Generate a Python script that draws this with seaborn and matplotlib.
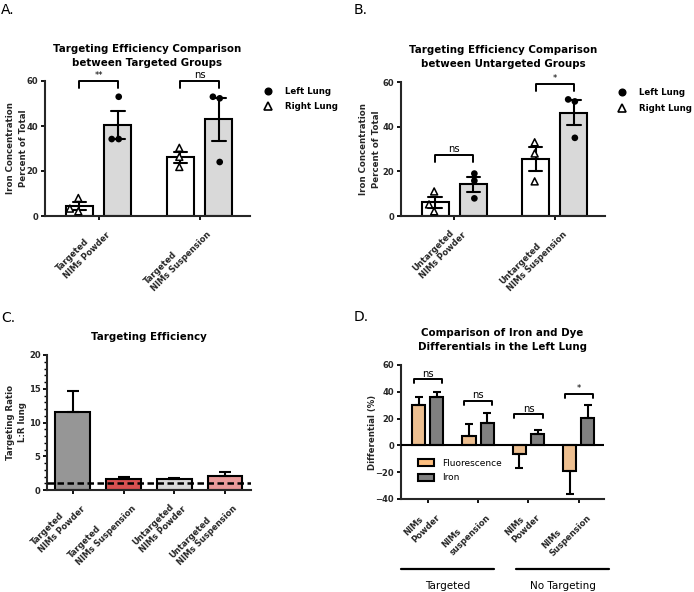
import numpy as np
import pandas as pd
import matplotlib
matplotlib.use("Agg")
import matplotlib.pyplot as plt
import matplotlib.patches as mpatches
import matplotlib.transforms as mtransforms
from matplotlib.lines import Line2D
from matplotlib.ticker import MultipleLocator
import seaborn as sns

# ---- data ----
LUNGS = ["Right Lung", "Left Lung"]

# A: targeted groups, iron % of total, 3 animals per lung
a_groups = ["Targeted\nNIMs Powder", "Targeted\nNIMs Suspension"]
a_left = [[53.0, 34.2, 34.2], [53.0, 52.3, 24.0]]
a_right = [[8.0, 3.3, 2.1], [30.3, 26.3, 21.8]]
a_sig = ["**", "ns"]
a_sig_y = [60, 60]

# B: untargeted groups
b_groups = ["Untargeted\nNIMs Powder", "Untargeted\nNIMs Suspension"]
b_left = [[19.0, 15.8, 7.9], [52.2, 51.3, 35.0]]
b_right = [[11.0, 5.2, 2.1], [33.0, 28.0, 15.5]]
b_sig = ["ns", "*"]
b_sig_y = [27.5, 59]

# C: L:R targeting ratio
c_labels = ["Targeted\nNIMs Powder", "Targeted\nNIMs Suspension",
            "Untargeted\nNIMs Powder", "Untargeted\nNIMs Suspension"]
c_ratio = [11.6, 1.65, 1.7, 2.1]
c_err = [3.0, 0.27, 0.08, 0.6]
c_colors = ["#969696", "#ee3b3b", "#d9d9d9", "#f58c8c"]

# D: iron vs dye differentials
d_keys = ["T-powder", "T-susp", "U-powder", "U-susp"]
d_labels = ["NIMs\nPowder", "NIMs\nsuspension", "NIMs\nPowder", "NIMs\nSuspension"]
d_fluor = [30.0, 7.2, -6.2, -19.4]
d_fluor_err = [6.0, 8.9, 10.7, 16.8]
d_iron = [35.8, 16.9, 8.2, 20.3]
d_iron_err = [4.4, 7.4, 3.0, 9.5]
d_sig = ["ns", "ns", "ns", "*"]
d_sig_y = [49.4, 33.3, 23.3, 38.5]

sns.set_style("ticks")
plt.rcParams["font.family"] = ["DejaVu Sans"]
plt.rcParams["axes.linewidth"] = 1.5
plt.rcParams["text.color"] = "black"

W, H = 694, 592
fig = plt.figure(figsize=(W / 100, H / 100), dpi=100)


def px_axes(left, right, top, bottom):
    return fig.add_axes([left / W, 1 - bottom / H, (right - left) / W, (bottom - top) / H])


def style(ax):
    sns.despine(ax=ax)
    ax.tick_params(axis="both", length=3, width=1.3, pad=2, labelsize=6, color="black")
    ax.set_xlabel("")
    for t in ax.get_yticklabels():
        t.set_fontweight("bold")


def set_xlabels(ax, labels):
    ax.set_xticks(range(len(labels)))
    ax.set_xticklabels(labels, rotation=45, ha="right", va="top", rotation_mode="anchor",
                       multialignment="left", fontsize=6, fontweight="bold")


def bracket(ax, x1, x2, y, txt, drop=3.2):
    ax.plot([x1, x1, x2, x2], [y - drop, y, y, y - drop], color="black", lw=1.4, clip_on=False)
    fs = 7.2 if txt == "ns" else 6
    ax.text((x1 + x2) / 2, y + 0.4, txt, ha="center", va="bottom", fontsize=fs)


def lung_panel(ax, groups, left, right, sig, sig_y, title, legend_xy):
    rows = []
    for g, l_vals, r_vals in zip(groups, left, right):
        rows += [(g, "Left Lung", v) for v in l_vals]
        rows += [(g, "Right Lung", v) for v in r_vals]
    df = pd.DataFrame(rows, columns=["group", "lung", "value"])
    sns.barplot(data=df, x="group", y="value", hue="lung", order=groups, hue_order=LUNGS,
                palette={"Right Lung": "white", "Left Lung": "#d9d9d9"},
                errorbar="se", capsize=0.27, err_kws={"linewidth": 1.5, "color": "black"},
                width=0.76, gap=0.3, edgecolor="black", linewidth=1.5, legend=False, ax=ax)
    sns.swarmplot(data=df[df.lung == "Left Lung"], x="group", y="value", hue="lung",
                  order=groups, hue_order=LUNGS, dodge=True, palette={"Left Lung": "black", "Right Lung": "black"},
                  marker="o", size=4.8, linewidth=0, legend=False, zorder=4, ax=ax)
    sns.swarmplot(data=df[df.lung == "Right Lung"], x="group", y="value", hue="lung",
                  order=groups, hue_order=LUNGS, dodge=True, palette={"Left Lung": "white", "Right Lung": "white"},
                  marker="^", size=5, edgecolor="black", linewidth=1.1, legend=False, zorder=4, ax=ax)
    ax.set_ylim(0, 60)
    ax.set_yticks([0, 20, 40, 60])
    ax.set_xlim(-0.53, 1.5)
    for i, (s, y) in enumerate(zip(sig, sig_y)):
        bracket(ax, i - 0.19, i + 0.19, y, s)
    ax.set_title(title, fontsize=7.4, fontweight="bold", pad=10.5, linespacing=1.55)
    ax.set_ylabel("Iron Concentration\nPercent of Total", fontsize=6.2, fontweight="bold", linespacing=1.5)
    style(ax)
    set_xlabels(ax, groups)
    handles = [Line2D([], [], marker="o", ls="", color="black", markersize=4.8),
               Line2D([], [], marker="^", ls="", markerfacecolor="white", markeredgecolor="black",
                      markeredgewidth=1.2, markersize=5.2)]
    ax.legend(handles, ["Left Lung", "Right Lung"], loc="upper left", bbox_to_anchor=legend_xy,
              bbox_transform=fig.transFigure, frameon=False, borderpad=0, borderaxespad=0,
              handlelength=1, handletextpad=1.5, labelspacing=0.75,
              prop={"size": 6.2, "weight": "bold"})


# ---- A ----
axA = px_axes(45, 250, 81, 216)
lung_panel(axA, a_groups, a_left, a_right, a_sig, a_sig_y,
           "Targeting Efficiency Comparison\nbetween Targeted Groups", (0.380, 0.853))
axA.yaxis.set_label_coords(-0.085, 0.5)

# ---- B ----
axB = px_axes(401, 605, 82, 216)
lung_panel(axB, b_groups, b_left, b_right, b_sig, b_sig_y,
           "Targeting Efficiency Comparison\nbetween Untargeted Groups", (0.890, 0.851))
axB.yaxis.set_label_coords(-0.10, 0.5)

# ---- C ----
axC = px_axes(47.5, 251, 355, 490)
sns.barplot(x=c_labels, y=c_ratio, hue=c_labels, palette=c_colors, legend=False, width=0.685,
            edgecolor="black", linewidth=1.5, ax=axC)
axC.errorbar(range(len(c_ratio)), c_ratio, yerr=[np.zeros(len(c_err)), c_err], fmt="none",
             ecolor="black", elinewidth=1.5, capsize=4.5, capthick=1.5, zorder=3)
axC.axhline(1, color="black", lw=1.8, ls=(0, (2.6, 1.4)), zorder=4)
axC.set_ylim(0, 20)
axC.set_xlim(-0.5, 3.51)
axC.yaxis.set_major_locator(MultipleLocator(5))
axC.yaxis.set_minor_locator(MultipleLocator(1))
axC.set_title("Targeting Efficiency", fontsize=7.4, fontweight="bold", pad=10.5)
axC.set_ylabel("Targeting Ratio\nL:R lung", fontsize=6.2, fontweight="bold", linespacing=1.5)
style(axC)
axC.tick_params(axis="y", which="minor", length=2.2, width=1.0, color="black")
set_xlabels(axC, c_labels)
axC.yaxis.set_label_coords(-0.10, 0.5)

# ---- D ----
axD = px_axes(401, 604, 365, 499)
d_df = pd.DataFrame({"group": d_keys * 2,
                     "dye": ["Fluorescence"] * 4 + ["Iron"] * 4,
                     "value": d_fluor + d_iron})
d_pal = {"Fluorescence": "#fdbf80", "Iron": "#808080"}
sns.barplot(data=d_df, x="group", y="value", hue="dye", order=d_keys,
            hue_order=["Fluorescence", "Iron"], palette=d_pal, errorbar=None,
            width=0.72, gap=0.28, edgecolor="black", linewidth=1.5, legend=False, ax=axD)
off = 0.72 / 4
for vals, errs, sh in [(d_fluor, d_fluor_err, -off), (d_iron, d_iron_err, off)]:
    vals = np.array(vals)
    errs = np.array(errs)
    lo = np.where(vals < 0, errs, 0)
    hi = np.where(vals >= 0, errs, 0)
    axD.errorbar(np.arange(4) + sh, vals, yerr=[lo, hi], fmt="none", ecolor="black",
                 elinewidth=1.5, capsize=2.6, capthick=1.5, zorder=3)
axD.axhline(0, color="black", lw=1.5, zorder=3)
axD.set_ylim(-40, 60)
axD.set_yticks([-40, -20, 0, 20, 40, 60])
axD.set_xlim(-0.53, 3.5)
for i, (s, y) in enumerate(zip(d_sig, d_sig_y)):
    bracket(axD, i - 0.28, i + 0.28, y, s, drop=3.0)
axD.set_title("Comparison of Iron and Dye\nDifferentials in the Left Lung",
              fontsize=7.4, fontweight="bold", pad=10.5, linespacing=1.55)
axD.set_ylabel("Differential (%)", fontsize=6.2, fontweight="bold")
style(axD)
set_xlabels(axD, d_labels)
axD.yaxis.set_label_coords(-0.118, 0.5)
d_handles = [mpatches.Patch(facecolor=d_pal[k], edgecolor="black", linewidth=1.5) for k in d_pal]
axD.legend(d_handles, list(d_pal), loc="upper left", bbox_to_anchor=(0.6023, 0.2247),
           bbox_transform=fig.transFigure, frameon=False, borderpad=0, borderaxespad=0,
           handlelength=1.8, handleheight=0.78, handletextpad=0.85, labelspacing=0.6,
           prop={"size": 6.5})
trans = mtransforms.blended_transform_factory(axD.transData, axD.transAxes)
for x1, x2, txt in [(-0.53, 1.32, "Targeted"), (1.76, 3.6, "No Targeting")]:
    axD.plot([x1, x2], [-0.52, -0.52], color="black", lw=1.6, transform=trans, clip_on=False)
    axD.text((x1 + x2) / 2, -0.65, txt, ha="center", va="center", fontsize=7.5, transform=trans)

# panel letters
for x, y, s in [(0.002, 0.995, "A."), (0.509, 0.995, "B."), (0.002, 0.475, "C."), (0.510, 0.476, "D.")]:
    fig.text(x, y, s, fontsize=10, va="top", ha="left")

fig.savefig("out.png", dpi=100)
